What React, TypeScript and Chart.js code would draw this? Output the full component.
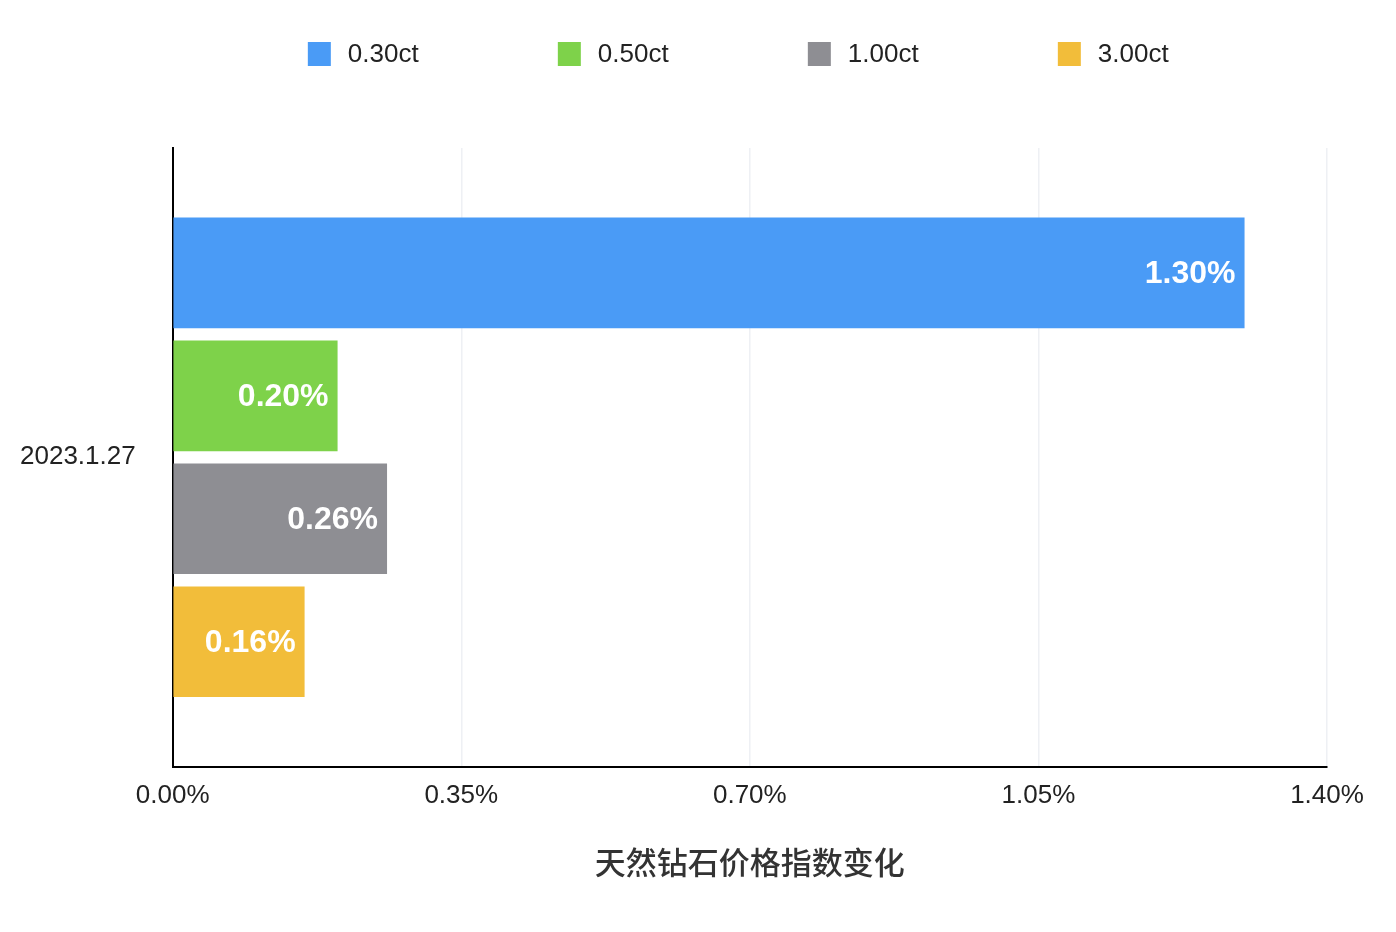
import * as React from 'react';
import Chart from 'chart.js/auto';

const categories = ['2023.1.27'];
const seriesNames = ['0.30ct', '0.50ct', '1.00ct', '3.00ct'];
const seriesValues = [[1.3], [0.2], [0.26], [0.16]];
const seriesColors = ['#4a9bf6', '#7ed24a', '#8e8e93', '#f2bd3a'];
const xTickMax = 1.4;
const xTickStep = 0.35;
const axisTitle = '天然钻石价格指数变化';

const latin = '"Liberation Sans", Arial, sans-serif';

// white value labels at the inner end of every bar
const barValueLabels = {
    id: 'barValueLabels',
    afterDatasetsDraw(chart: any) {
        const ctx = chart.ctx;
        ctx.save();
        ctx.font = `bold 32px ${latin}`;
        ctx.fillStyle = '#ffffff';
        ctx.textAlign = 'right';
        ctx.textBaseline = 'middle';
        chart.data.datasets.forEach((ds: any, i: number) => {
            const meta = chart.getDatasetMeta(i);
            meta.data.forEach((bar: any, j: number) => {
                ctx.fillText(ds.data[j].toFixed(2) + '%', bar.x - 9, bar.y + 1);
            });
        });
        ctx.restore();
    }
};

// legend drawn by hand so the items can sit 250px apart
const spacedLegend = {
    id: 'spacedLegend',
    afterDraw(chart: any) {
        const ctx = chart.ctx;
        const area = chart.chartArea;
        const step = 250;
        const start = (area.left + area.right) / 2 - 442;
        ctx.save();
        ctx.font = `26px ${latin}`;
        ctx.textAlign = 'left';
        ctx.textBaseline = 'middle';
        chart.data.datasets.forEach((ds: any, i: number) => {
            const x = start + i * step;
            ctx.fillStyle = ds.backgroundColor;
            ctx.fillRect(x, 42, 23, 24);
            ctx.fillStyle = '#222222';
            ctx.fillText(ds.label, x + 40, 55);
        });
        ctx.restore();
    }
};

export default function App() {
    const canvasRef = React.useRef<HTMLCanvasElement>(null);

    React.useEffect(() => {
        if (!canvasRef.current) return;
        const chart = new Chart(canvasRef.current.getContext('2d')!, {
            type: 'bar',
            data: {
                labels: categories,
                datasets: seriesNames.map((name, i) => ({
                    label: name,
                    data: seriesValues[i],
                    backgroundColor: seriesColors[i],
                    borderWidth: 0,
                    barPercentage: 0.9,
                    categoryPercentage: 0.795
                }))
            },
            options: {
                indexAxis: 'y',
                responsive: false,
                animation: false,
                layout: { padding: { top: 148, left: 20, right: 69, bottom: 0 } },
                plugins: {
                    legend: { display: false },
                    tooltip: { enabled: false }
                },
                scales: {
                    x: {
                        min: 0,
                        max: xTickMax,
                        ticks: {
                            stepSize: xTickStep,
                            padding: 14,
                            color: '#222222',
                            font: { family: latin, size: 26 },
                            callback: (v: any) => Number(v).toFixed(2) + '%'
                        },
                        grid: { color: '#eef0f4', lineWidth: 1.5, drawTicks: false },
                        border: { display: true, color: '#000000', width: 2 },
                        title: {
                            display: true,
                            text: axisTitle,
                            color: '#333333',
                            font: { family: '"Noto Sans CJK SC", sans-serif', size: 31, weight: '500' },
                            padding: { top: 18, bottom: 51 }
                        }
                    },
                    y: {
                        ticks: {
                            padding: 18.5,
                            crossAlign: 'far',
                            color: '#222222',
                            font: { family: latin, size: 26 }
                        },
                        grid: { display: false, drawTicks: false },
                        border: { display: true, color: '#000000', width: 2 }
                    }
                }
            },
            plugins: [barValueLabels, spacedLegend]
        });
        return () => {
            chart.destroy();
        };
    }, []);

    return (
        <div style={{ position: 'absolute', left: 0, top: 0, width: 1396, height: 932, background: '#ffffff' }}>
            <canvas ref={canvasRef} width={1396} height={932}></canvas>
        </div>
    );
}
